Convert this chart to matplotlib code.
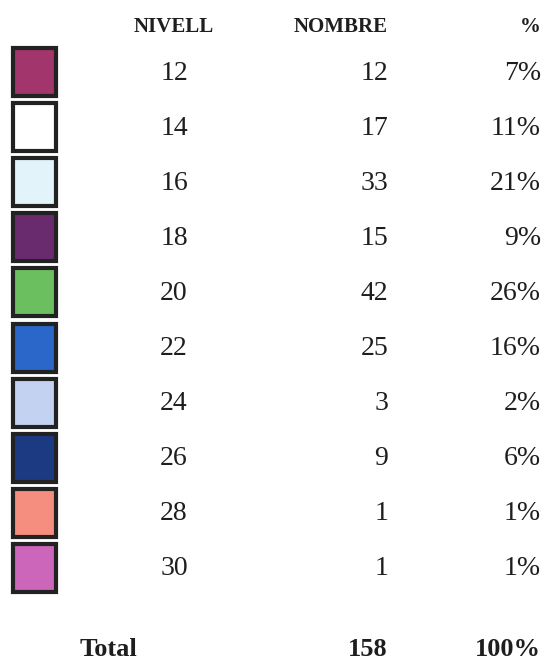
import matplotlib
matplotlib.use("Agg")
import matplotlib.pyplot as plt
from matplotlib.patches import Rectangle

plt.rcParams['font.family'] = ['Liberation Serif', 'DejaVu Serif']

# data
headers = ["NIVELL", "NOMBRE", "%"]
nivell = [12, 14, 16, 18, 20, 22, 24, 26, 28, 30]
nombre = [12, 17, 33, 15, 42, 25, 3, 9, 1, 1]
percent = ["7%", "11%", "21%", "9%", "26%", "16%", "2%", "6%", "1%", "1%"]
colors = ["#a2356b", "#ffffff", "#e2f4fa", "#6a2b6e", "#6cbf5e", "#2b66c9",
          "#c4d2f2", "#1b3a82", "#f58e7e", "#cc66bb"]
total_label = "Total"
total_nombre = 158
total_pct = "100%"

W, H = 546, 664
fig = plt.figure(figsize=(W / 100, H / 100), dpi=100)
ax = fig.add_axes([0, 0, 1, 1])
ax.set_xlim(0, W)
ax.set_ylim(H, 0)
ax.axis("off")

x_niv, x_nom, x_pct = 174, 388, 541
y_head, y0, dy = 27, 73, 55.1
tc = "#1e1e1e"

ax.text(x_niv, y_head, headers[0], ha="center", va="center", fontsize=15, fontweight="bold", color=tc)
ax.text(x_nom, y_head, headers[1], ha="right", va="center", fontsize=15, fontweight="bold", color=tc)
ax.text(x_pct, y_head, headers[2], ha="right", va="center", fontsize=15, fontweight="bold", color=tc)

for i, (n, c, p, col) in enumerate(zip(nivell, nombre, percent, colors)):
    y = y0 + i * dy
    ax.add_patch(Rectangle((13, y - 25), 43, 48, facecolor=col, edgecolor="#222222", linewidth=3))
    ax.text(x_niv, y, str(n), ha="center", va="center", fontsize=20, color=tc)
    ax.text(x_nom, y, str(c), ha="right", va="center", fontsize=20, color=tc)
    ax.text(x_pct, y, p, ha="right", va="center", fontsize=20, color=tc)

y_tot = 650
ax.text(108, y_tot, total_label, ha="center", va="center", fontsize=19, fontweight="bold", color=tc)
ax.text(x_nom, y_tot, str(total_nombre), ha="right", va="center", fontsize=19, fontweight="bold", color=tc)
ax.text(x_pct, y_tot, total_pct, ha="right", va="center", fontsize=19, fontweight="bold", color=tc)

fig.savefig("out.png", dpi=100, facecolor="white")
